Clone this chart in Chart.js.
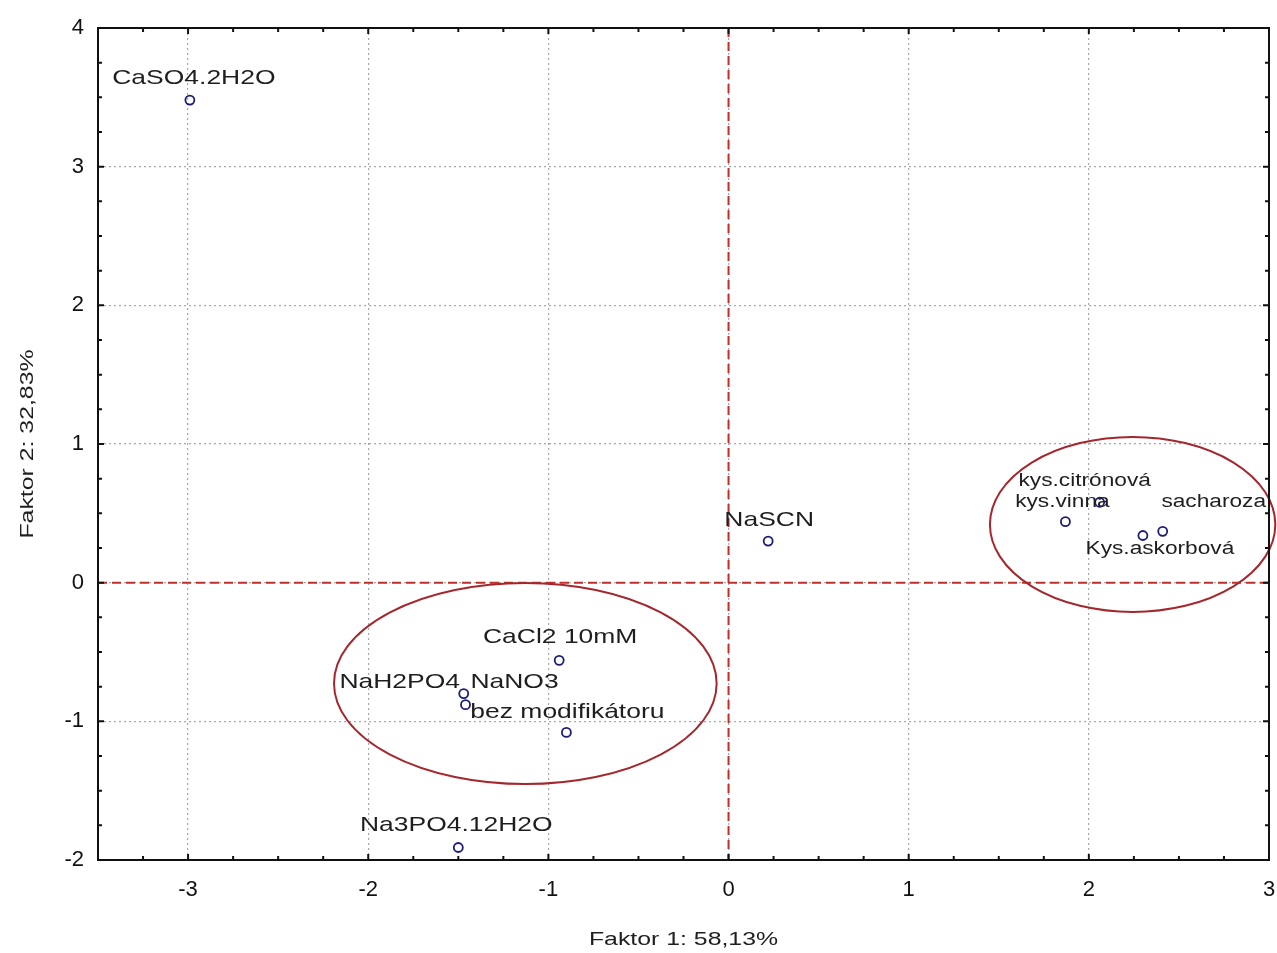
<!DOCTYPE html>
<html>
<head>
<meta charset="utf-8">
<title>Faktorová analýza – modifikátory</title>
<script src="https://cdn.jsdelivr.net/npm/chart.js@4.4.1/dist/chart.umd.min.js"></script>
<style>
  html, body { margin: 0; padding: 0; background: #ffffff; }
  #wrap { width: 1277px; height: 953px; position: relative; }
</style>
</head>
<body>
<div id="wrap"><canvas id="chart"></canvas></div>
<script>
// Sample names and their scores on the first two factors
const sampleNames = [
  'CaSO4.2H2O', 'NaSCN', 'kys.citrónová', 'kys.vinna', 'Kys.askorbová', 'sacharoza',
  'CaCl2 10mM', 'NaH2PO4', 'NaNO3', 'bez modifikátoru', 'Na3PO4.12H2O'
];
const factor1 = [-2.99, 0.22, 2.06, 1.87, 2.30, 2.41, -0.94, -1.47, -1.46, -0.90, -1.50];
const factor2 = [3.48, 0.30, 0.58, 0.44, 0.34, 0.37, -0.56, -0.80, -0.88, -1.08, -1.91];

// Label placement relative to each point (pixels: dx, dy) and label font group
const labelDx = [4, 1, -15, -3, 17, 51, 1, -64, 49, 1, -2];
const labelDy = [-22, -21, -21, -20, 14, -29, -23, -11, -22, -20, -22];
const labelSmall = [false, false, true, true, true, true, false, false, false, false, false];

// Cluster ellipses (data units): centre and semi-axes
const ellipseCx = [-1.128, 2.243];
const ellipseCy = [-0.727, 0.420];
const ellipseRx = [1.062, 0.792];
const ellipseRy = [0.725, 0.631];

// Axis ranges and titles
const xRange = [-3.5, 3];
const yRange = [-2, 4];
const xTitle = 'Faktor 1: 58,13%';
const yTitle = 'Faktor 2: 32,83%';

const points = factor1.map((v, i) => ({ x: v, y: factor2[i] }));
const isWhole = v => Math.abs(v - Math.round(v)) < 1e-6;

function wideText(ctx, text, x, y, font, sx, rotate) {
  ctx.save();
  ctx.translate(x, y);
  if (rotate) ctx.rotate(-Math.PI / 2);
  ctx.scale(sx, 1);
  ctx.font = font;
  ctx.textAlign = 'center';
  ctx.textBaseline = 'middle';
  ctx.fillText(text, 0, 0);
  ctx.restore();
}

const decorations = {
  id: 'decorations',
  beforeDatasetsDraw(chart) {
    const { ctx, chartArea: a, scales: { x, y } } = chart;
    ctx.save();
    // zero reference lines
    ctx.strokeStyle = '#c0302a';
    ctx.lineWidth = 2;
    ctx.setLineDash([9, 5]);
    const x0 = x.getPixelForValue(0), y0 = y.getPixelForValue(0);
    ctx.beginPath();
    ctx.moveTo(x0, a.top); ctx.lineTo(x0, a.bottom);
    ctx.moveTo(a.left, y0); ctx.lineTo(a.right, y0);
    ctx.stroke();
    ctx.setLineDash([]);
    // cluster ellipses
    ctx.strokeStyle = '#a3282e';
    ctx.lineWidth = 2;
    for (let i = 0; i < ellipseCx.length; i++) {
      const cx = x.getPixelForValue(ellipseCx[i]);
      const cy = y.getPixelForValue(ellipseCy[i]);
      const rx = Math.abs(x.getPixelForValue(ellipseCx[i] + ellipseRx[i]) - cx);
      const ry = Math.abs(y.getPixelForValue(ellipseCy[i] + ellipseRy[i]) - cy);
      ctx.beginPath();
      ctx.ellipse(cx, cy, rx, ry, 0, 0, Math.PI * 2);
      ctx.stroke();
    }
    ctx.restore();
  },
  afterDatasetsDraw(chart) {
    const { ctx, chartArea: a, scales: { x, y } } = chart;
    ctx.save();
    // frame
    ctx.strokeStyle = '#111';
    ctx.lineWidth = 2;
    ctx.strokeRect(a.left, a.top, a.right - a.left, a.bottom - a.top);
    // inward tick marks on all four sides
    ctx.beginPath();
    x.ticks.forEach(t => {
      const px = x.getPixelForValue(t.value);
      const len = isWhole(t.value) ? 6 : 4;
      ctx.moveTo(px, a.bottom); ctx.lineTo(px, a.bottom - len);
      ctx.moveTo(px, a.top); ctx.lineTo(px, a.top + len);
    });
    y.ticks.forEach(t => {
      const py = y.getPixelForValue(t.value);
      const len = isWhole(t.value) ? 6 : 4;
      ctx.moveTo(a.left, py); ctx.lineTo(a.left + len, py);
      ctx.moveTo(a.right, py); ctx.lineTo(a.right - len, py);
    });
    ctx.stroke();
    // point labels
    ctx.fillStyle = '#1e1e1e';
    points.forEach((p, i) => {
      const px = x.getPixelForValue(p.x) + labelDx[i];
      const py = y.getPixelForValue(p.y) + labelDy[i];
      const font = labelSmall[i] ? '18px "Liberation Sans", Arial, sans-serif'
                                 : '21px "Liberation Sans", Arial, sans-serif';
      wideText(ctx, sampleNames[i], px, py, font, 1.26, false);
    });
    // axis titles
    ctx.fillStyle = '#1e1e1e';
    const tf = '18px "Liberation Sans", Arial, sans-serif';
    wideText(ctx, xTitle, (a.left + a.right) / 2, 940, tf, 1.38, false);
    wideText(ctx, yTitle, 28, (a.top + a.bottom) / 2, tf, 1.38, true);
    ctx.restore();
  }
};

const tickFont = { family: '"Liberation Sans", Arial, sans-serif', size: 22 };
const gridCfg = {
  drawTicks: false,
  color: c => (c.tick && isWhole(c.tick.value)) ? '#a8a8a8' : 'rgba(0,0,0,0)',
  lineWidth: 1.2
};

new Chart(document.getElementById('chart'), {
  type: 'scatter',
  data: {
    datasets: [{
      data: points,
      pointStyle: 'circle',
      pointRadius: 4.5,
      pointHoverRadius: 4.5,
      pointBorderWidth: 1.8,
      pointBorderColor: '#1c1c78',
      pointBackgroundColor: 'rgba(0,0,0,0)'
    }]
  },
  plugins: [decorations],
  options: {
    responsive: true,
    maintainAspectRatio: false,
    animation: false,
    layout: { padding: { top: 28, right: 8, left: 0, bottom: 0 } },
    plugins: { legend: { display: false }, tooltip: { enabled: false } },
    scales: {
      x: {
        type: 'linear',
        min: xRange[0], max: xRange[1],
        border: { color: '#111', width: 2, dash: [2, 3] },
        grid: gridCfg,
        ticks: {
          stepSize: 0.25, autoSkip: false, maxRotation: 0, padding: 17,
          color: '#111', font: tickFont,
          callback: v => isWhole(v) ? String(Math.round(v)) : ''
        },
        afterFit: s => { s.height = 93; s.paddingLeft = 0; s.paddingRight = 0; }
      },
      y: {
        type: 'linear',
        min: yRange[0], max: yRange[1],
        border: { color: '#111', width: 2, dash: [2, 3] },
        grid: gridCfg,
        ticks: {
          stepSize: 0.25, autoSkip: false, padding: 14,
          color: '#111', font: tickFont,
          callback: v => isWhole(v) ? String(Math.round(v)) : ''
        },
        afterFit: s => { s.width = 98; s.paddingTop = 0; s.paddingBottom = 0; }
      }
    }
  }
});
</script>
</body>
</html>
